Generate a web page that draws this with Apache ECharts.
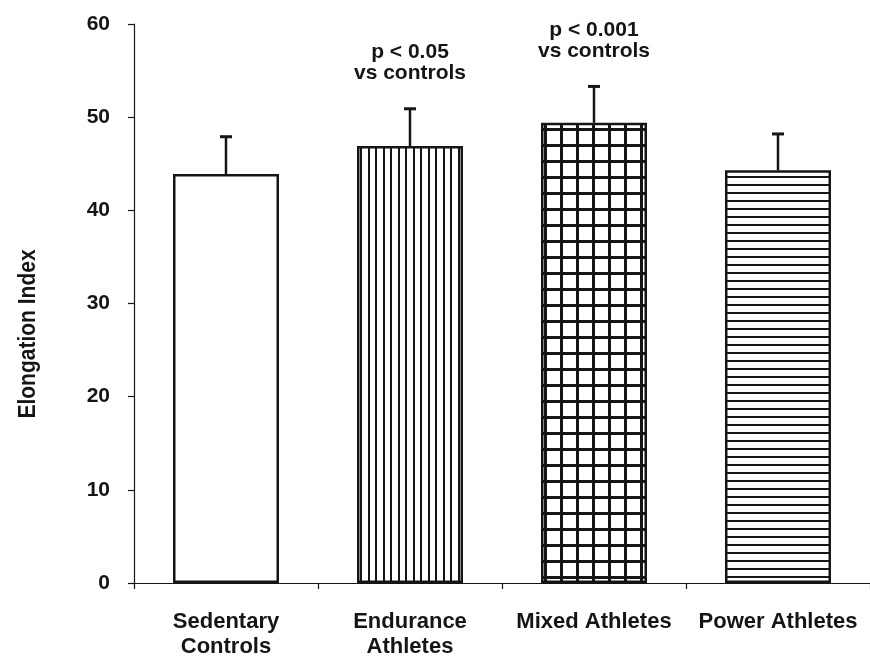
<!DOCTYPE html>
<html>
<head>
<meta charset="utf-8">
<script src="https://cdn.jsdelivr.net/npm/echarts@6/dist/echarts.min.js"></script>
<style>html,body{margin:0;padding:0;background:#fff}#c{width:870px;height:659px}</style>
</head>
<body>
<div id="c"></div>
<script>
var categories = ['Sedentary\nControls', 'Endurance\nAthletes', 'Mixed Athletes', 'Power Athletes'];
var means = [43.9, 46.9, 49.4, 44.3];
var upperErr = [47.9, 50.9, 53.3, 48.2];
var annotations = ['', 'p < 0.05\nvs controls', 'p < 0.001\nvs controls', ''];
var yTicks = [0, 10, 20, 30, 40, 50, 60];
var yTitle = 'Elongation Index';
var patternKinds = ['none', 'vertical', 'grid', 'horizontal'];

var FONT = "'Liberation Sans', Arial, Helvetica, sans-serif";
var INK = '#151515';

function makePattern(kind) {
  if (kind === 'none') return '#ffffff';
  var c = document.createElement('canvas');
  var ctx;
  if (kind === 'vertical') {
    c.width = 15; c.height = 15;
    ctx = c.getContext('2d');
    ctx.fillStyle = '#fff'; ctx.fillRect(0, 0, 15, 15);
    ctx.fillStyle = INK;
    ctx.fillRect(0, 0, 2, 15);
    ctx.fillRect(8, 0, 2, 15);
  } else if (kind === 'horizontal') {
    c.width = 8; c.height = 8;
    ctx = c.getContext('2d');
    ctx.fillStyle = '#fff'; ctx.fillRect(0, 0, 8, 8);
    ctx.fillStyle = INK;
    ctx.fillRect(0, 0, 8, 2);
  } else {
    c.width = 16; c.height = 16;
    ctx = c.getContext('2d');
    ctx.fillStyle = '#fff'; ctx.fillRect(0, 0, 16, 16);
    ctx.fillStyle = INK;
    ctx.fillRect(0, 0, 3, 16);
    ctx.fillRect(0, 0, 16, 3);
  }
  return { image: c, repeat: 'repeat' };
}

var barData = means.map(function (v, i) {
  return {
    value: v,
    itemStyle: { color: makePattern(patternKinds[i]), borderColor: INK, borderWidth: 2.5 }
  };
});

var errData = means.map(function (v, i) { return [i, v, upperErr[i]]; });

var chart = echarts.init(document.getElementById('c'), null, { renderer: 'canvas' });
chart.setOption({
  animation: false,
  backgroundColor: '#ffffff',
  grid: { left: 134, right: -14, top: 24, bottom: 74, containLabel: false },
  graphic: [{
    type: 'text',
    x: 28, y: 334,
    rotation: Math.PI / 2,
    scaleY: 1.18,
    style: {
      text: yTitle, align: 'center', verticalAlign: 'middle',
      fill: INK, font: 'bold 21px ' + FONT
    }
  }],
  xAxis: {
    type: 'category',
    data: categories,
    axisLine: { lineStyle: { color: INK, width: 1.2 } },
    axisTick: { show: true, length: 6, lineStyle: { color: INK, width: 1.2 } },
    axisLabel: {
      interval: 0, margin: 26, color: INK, fontFamily: FONT, fontWeight: 'bold',
      fontSize: 22, lineHeight: 25
    }
  },
  yAxis: {
    type: 'value',
    min: yTicks[0], max: yTicks[yTicks.length - 1], interval: 10,
    splitLine: { show: false },
    axisLine: { show: true, lineStyle: { color: INK, width: 1.2 } },
    axisTick: { show: true, length: 6, lineStyle: { color: INK, width: 1.2 } },
    axisLabel: { margin: 24, color: INK, fontFamily: FONT, fontWeight: 'bold', fontSize: 21 }
  },
  series: [
    {
      type: 'bar',
      data: barData,
      barWidth: 106,
      z: 2
    },
    {
      type: 'custom',
      z: 3,
      data: errData,
      renderItem: function (params, api) {
        var base = api.coord([api.value(0), api.value(1)]);
        var top = api.coord([api.value(0), api.value(2)]);
        var label = annotations[params.dataIndex];
        var children = [
          { type: 'line', shape: { x1: base[0], y1: base[1], x2: top[0], y2: top[1] },
            style: { stroke: INK, lineWidth: 2.5 } },
          { type: 'line', shape: { x1: top[0] - 6, y1: top[1], x2: top[0] + 6, y2: top[1] },
            style: { stroke: INK, lineWidth: 3 } }
        ];
        if (label) {
          children.push({
            type: 'text',
            style: {
              x: top[0], y: top[1] - 25, text: label, align: 'center', verticalAlign: 'bottom',
              fill: INK, font: 'bold 21px ' + FONT, lineHeight: 21
            }
          });
        }
        return { type: 'group', children: children };
      }
    }
  ]
});
</script>
</body>
</html>
